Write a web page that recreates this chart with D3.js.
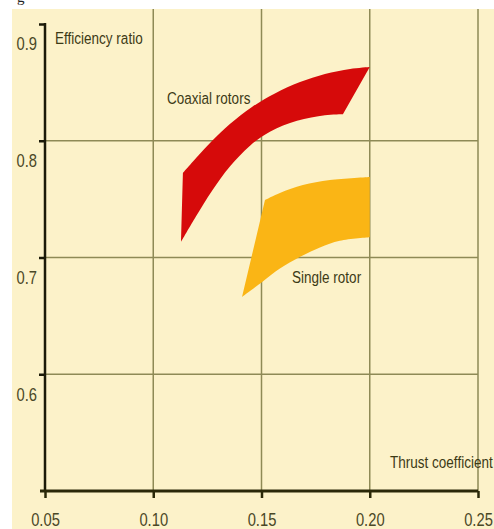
<!DOCTYPE html>
<html lang="en">

<head>
    <meta charset="UTF-8">
    <title>Efficiency ratio</title>
    <style>
        body { margin: 0; background: #ffffff; }
        svg { display: block; }
    </style>
</head>

<body>

    <div id="my_dataviz"></div>

    <script src="https://d3js.org/d3.v7.min.js"></script>

    <script type="text/javascript">

        // tick values
        var xTicks = [0.05, 0.10, 0.15, 0.20, 0.25];
        var yTicks = [0.6, 0.7, 0.8, 0.9];
        var xGridValues = [0.10, 0.15, 0.20, 0.25];
        var yGridValues = [0.6, 0.7, 0.8];

        // band edges, [thrust coefficient, efficiency ratio]
        var coaxialUpper = [
            [0.1137, 0.7724], [0.1202, 0.7861], [0.1271, 0.7998], [0.1354, 0.8143],
            [0.1456, 0.8289], [0.1562, 0.8405], [0.1678, 0.8503], [0.1793, 0.8572],
            [0.1909, 0.8615], [0.2000, 0.8632]
        ];
        var coaxialLower = [
            [0.1128, 0.7133], [0.1197, 0.7351], [0.1271, 0.7570], [0.1354, 0.7779],
            [0.1447, 0.7958], [0.1539, 0.8078], [0.1664, 0.8171], [0.1793, 0.8219],
            [0.1876, 0.8227]
        ];
        var singleUpper = [
            [0.1516, 0.7492], [0.1585, 0.7552], [0.1691, 0.7620], [0.1816, 0.7663],
            [0.2000, 0.7689]
        ];
        var singleLower = [
            [0.1410, 0.6661], [0.1506, 0.6795], [0.1585, 0.6905], [0.1677, 0.7004],
            [0.1770, 0.7086], [0.1862, 0.7143], [0.2000, 0.7173]
        ];

        var width = 494, height = 529;
        var font = "'Liberation Sans', Arial, sans-serif";
        var squeeze = 0.82; // the original lettering is a narrow face
        var textColor = "#3c3a16";
        var tickColor = "#4a4826";
        var gridColor = "#8e8a56";

        // squeeze a text horizontally around its own x
        function narrow(sel) {
            sel.each(function () {
                var ax = +this.getAttribute("x") || 0;
                this.setAttribute("transform",
                    "matrix(" + squeeze + ",0,0,1," + (ax * (1 - squeeze)) + ",0)");
            });
        }

        var svg = d3.select("#my_dataviz")
            .append("svg")
            .attr("width", width)
            .attr("height", height);

        // caption fragment above the figure
        svg.append("text")
            .attr("x", 17)
            .attr("y", 2)
            .style("font-family", "'Liberation Serif', serif")
            .style("font-size", "15px")
            .attr("fill", "#222")
            .text("g");

        // cream panel
        svg.append("rect")
            .attr("x", 12)
            .attr("y", 9)
            .attr("width", width - 12)
            .attr("height", height - 9)
            .attr("fill", "#fcf2c9");

        var x = d3.scaleLinear()
            .domain([0.05, 0.25])
            .range([45, 478]);

        var y = d3.scaleLinear()
            .domain([0.5, 0.9])
            .range([491, 24]);

        // grid lines
        svg.append("g")
            .selectAll("line")
            .data(xGridValues)
            .join("line")
            .attr("x1", function (d) { return x(d) })
            .attr("x2", function (d) { return x(d) })
            .attr("y1", 9)
            .attr("y2", y(0.5))
            .attr("stroke", gridColor)
            .attr("stroke-width", 1.5);

        svg.append("g")
            .selectAll("line")
            .data(yGridValues)
            .join("line")
            .attr("x1", x(0.05))
            .attr("x2", x(0.25))
            .attr("y1", function (d) { return y(d) })
            .attr("y2", function (d) { return y(d) })
            .attr("stroke", gridColor)
            .attr("stroke-width", 1.5);

        // bands: smooth upper edge, straight end, smooth lower edge back
        var edge = d3.line()
            .x(function (d) { return x(d[0]) })
            .y(function (d) { return y(d[1]) })
            .curve(d3.curveCatmullRom);

        function band(upper, lower) {
            return edge(upper) + "L" + edge(lower.slice().reverse()).slice(1) + "Z";
        }

        svg.append("path")
            .attr("fill", "#d60a0a")
            .attr("d", band(coaxialUpper, coaxialLower));

        svg.append("path")
            .attr("fill", "#fab515")
            .attr("d", band(singleUpper, singleLower));

        // Y axis
        var yAxis = svg.append("g")
            .attr("transform", "translate(" + x(0.05) + ",0)")
            .call(d3.axisLeft(y).tickValues(yTicks).tickSize(6).tickSizeOuter(0).tickFormat(d3.format(".1f")));
        yAxis.select(".domain").remove();
        yAxis.selectAll("line").attr("stroke", "#1b1a08").attr("stroke-width", 2.5);
        yAxis.selectAll("text")
            .attr("x", -8)
            .attr("y", 26)
            .attr("dy", 0)
            .attr("fill", tickColor)
            .style("font-family", font)
            .style("font-size", "18px")
            .call(narrow);

        svg.append("line")
            .attr("x1", x(0.05))
            .attr("x2", x(0.05))
            .attr("y1", y(0.9) - 1)
            .attr("y2", y(0.5))
            .attr("stroke", "#1b1a08")
            .attr("stroke-width", 2.5);

        // X axis
        var xAxis = svg.append("g")
            .attr("transform", "translate(0," + y(0.5) + ")")
            .call(d3.axisBottom(x).tickValues(xTicks).tickSize(7).tickSizeOuter(0).tickFormat(d3.format(".2f")));
        xAxis.select(".domain").remove();
        xAxis.selectAll("line").attr("stroke", "#2a2808").attr("stroke-width", 2.5);
        xAxis.selectAll("text")
            .attr("x", 0)
            .attr("y", 35)
            .attr("dy", 0)
            .attr("fill", tickColor)
            .style("font-family", font)
            .style("font-size", "18px")
            .call(narrow);

        svg.append("line")
            .attr("x1", 40)
            .attr("x2", x(0.25))
            .attr("y1", y(0.5))
            .attr("y2", y(0.5))
            .attr("stroke", "#2a2808")
            .attr("stroke-width", 3);

        // labels
        var labels = [
            { text: "Efficiency ratio", x: 55, y: 44 },
            { text: "Coaxial rotors", x: 167, y: 104 },
            { text: "Single rotor", x: 292, y: 283 },
            { text: "Thrust coefficient", x: 390, y: 468 }
        ];

        svg.append("g")
            .selectAll("text")
            .data(labels)
            .join("text")
            .attr("x", function (d) { return d.x })
            .attr("y", function (d) { return d.y })
            .attr("fill", textColor)
            .style("font-family", font)
            .style("font-size", "16.5px")
            .text(function (d) { return d.text })
            .call(narrow);

    </script>

</body>

</html>
